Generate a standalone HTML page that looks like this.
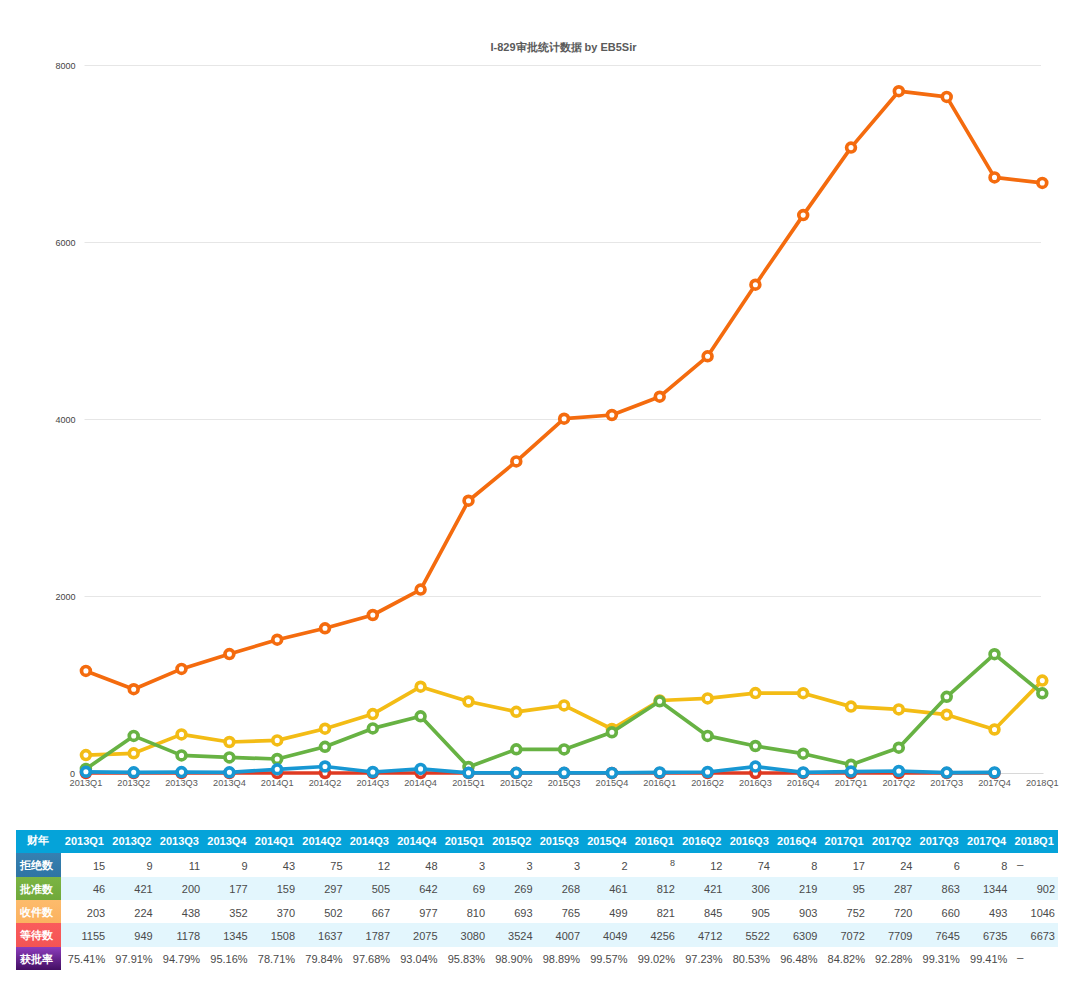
<!DOCTYPE html>
<html><head><meta charset="utf-8"><title>I-829</title>
<style>
html,body{margin:0;padding:0;background:#fff;}
body{width:1080px;height:987px;position:relative;overflow:hidden;font-family:"Liberation Sans",sans-serif;}
.t{position:absolute;left:16px;top:830px;width:1042px;border-collapse:collapse;table-layout:fixed;font-size:11px;}
.t td{height:23.333px;padding:2px 3px 0 0;text-align:right;color:#4a4a4a;white-space:nowrap;overflow:hidden;box-sizing:border-box;}
.t tr.h td{background:#05a3d9;color:#fff;text-align:center;padding:0 0 2px 0;font-weight:bold;}
.t td.lab{width:44.7px;text-align:left;color:#fff;padding:1.5px 0 0 4px;font-weight:bold;}
.t tr.h td.lab{text-align:center;padding:0 0 2px 0;}
.t tr.even td{background:#e3f6fd;}
.t tr.odd td{background:#fff;}
.t .sm{font-size:9px;position:relative;top:-3.5px;}
.t td.na{text-align:left;padding-left:6.5px;padding-right:0;}
.t .ds{position:relative;top:-2px;font-size:11.5px;}
</style></head><body>
<svg width="1080" height="820" viewBox="0 0 1080 820" style="position:absolute;left:0;top:0">
<text x="563.5" y="51" text-anchor="middle" font-family="Liberation Sans, sans-serif" font-size="11" font-weight="bold" fill="#5a5a5a">I-829审批统计数据 by EB5Sir</text>
<line x1="84.5" y1="596.5" x2="1041" y2="596.5" stroke="#e6e6e6" stroke-width="1"/>
<text x="75.5" y="599.8" text-anchor="end" font-family="Liberation Sans, sans-serif" font-size="9" fill="#444">2000</text>
<line x1="84.5" y1="419.5" x2="1041" y2="419.5" stroke="#e6e6e6" stroke-width="1"/>
<text x="75.5" y="422.8" text-anchor="end" font-family="Liberation Sans, sans-serif" font-size="9" fill="#444">4000</text>
<line x1="84.5" y1="242.5" x2="1041" y2="242.5" stroke="#e6e6e6" stroke-width="1"/>
<text x="75.5" y="245.8" text-anchor="end" font-family="Liberation Sans, sans-serif" font-size="9" fill="#444">6000</text>
<line x1="84.5" y1="65.5" x2="1041" y2="65.5" stroke="#e6e6e6" stroke-width="1"/>
<text x="75.5" y="68.8" text-anchor="end" font-family="Liberation Sans, sans-serif" font-size="9" fill="#444">8000</text>
<line x1="84.5" y1="773.5" x2="1043.5" y2="773.5" stroke="#d8d8d8" stroke-width="1"/>
<text x="75" y="776.8" text-anchor="end" font-family="Liberation Sans, sans-serif" font-size="9" fill="#444">0</text>
<text x="85.9" y="785.6" text-anchor="middle" font-family="Liberation Sans, sans-serif" font-size="9.2" fill="#595959">2013Q1</text>
<text x="133.7" y="785.6" text-anchor="middle" font-family="Liberation Sans, sans-serif" font-size="9.2" fill="#595959">2013Q2</text>
<text x="181.5" y="785.6" text-anchor="middle" font-family="Liberation Sans, sans-serif" font-size="9.2" fill="#595959">2013Q3</text>
<text x="229.4" y="785.6" text-anchor="middle" font-family="Liberation Sans, sans-serif" font-size="9.2" fill="#595959">2013Q4</text>
<text x="277.2" y="785.6" text-anchor="middle" font-family="Liberation Sans, sans-serif" font-size="9.2" fill="#595959">2014Q1</text>
<text x="325.0" y="785.6" text-anchor="middle" font-family="Liberation Sans, sans-serif" font-size="9.2" fill="#595959">2014Q2</text>
<text x="372.8" y="785.6" text-anchor="middle" font-family="Liberation Sans, sans-serif" font-size="9.2" fill="#595959">2014Q3</text>
<text x="420.6" y="785.6" text-anchor="middle" font-family="Liberation Sans, sans-serif" font-size="9.2" fill="#595959">2014Q4</text>
<text x="468.5" y="785.6" text-anchor="middle" font-family="Liberation Sans, sans-serif" font-size="9.2" fill="#595959">2015Q1</text>
<text x="516.3" y="785.6" text-anchor="middle" font-family="Liberation Sans, sans-serif" font-size="9.2" fill="#595959">2015Q2</text>
<text x="564.1" y="785.6" text-anchor="middle" font-family="Liberation Sans, sans-serif" font-size="9.2" fill="#595959">2015Q3</text>
<text x="611.9" y="785.6" text-anchor="middle" font-family="Liberation Sans, sans-serif" font-size="9.2" fill="#595959">2015Q4</text>
<text x="659.7" y="785.6" text-anchor="middle" font-family="Liberation Sans, sans-serif" font-size="9.2" fill="#595959">2016Q1</text>
<text x="707.6" y="785.6" text-anchor="middle" font-family="Liberation Sans, sans-serif" font-size="9.2" fill="#595959">2016Q2</text>
<text x="755.4" y="785.6" text-anchor="middle" font-family="Liberation Sans, sans-serif" font-size="9.2" fill="#595959">2016Q3</text>
<text x="803.2" y="785.6" text-anchor="middle" font-family="Liberation Sans, sans-serif" font-size="9.2" fill="#595959">2016Q4</text>
<text x="851.0" y="785.6" text-anchor="middle" font-family="Liberation Sans, sans-serif" font-size="9.2" fill="#595959">2017Q1</text>
<text x="898.8" y="785.6" text-anchor="middle" font-family="Liberation Sans, sans-serif" font-size="9.2" fill="#595959">2017Q2</text>
<text x="946.7" y="785.6" text-anchor="middle" font-family="Liberation Sans, sans-serif" font-size="9.2" fill="#595959">2017Q3</text>
<text x="994.5" y="785.6" text-anchor="middle" font-family="Liberation Sans, sans-serif" font-size="9.2" fill="#595959">2017Q4</text>
<text x="1042.3" y="785.6" text-anchor="middle" font-family="Liberation Sans, sans-serif" font-size="9.2" fill="#595959">2018Q1</text>
<path d="M85.9,670.9 L133.7,689.2 L181.5,668.9 L229.4,654.1 L277.2,639.7 L325.0,628.3 L372.8,615.0 L420.6,589.6 L468.5,500.7 L516.3,461.4 L564.1,418.7 L611.9,415.0 L659.7,396.7 L707.6,356.3 L755.4,284.7 L803.2,215.1 L851.0,147.6 L898.8,91.2 L946.7,96.9 L994.5,177.4 L1042.3,182.9" fill="none" stroke="#f46b0e" stroke-width="3.7" stroke-linejoin="round" stroke-linecap="round"/>
<circle cx="85.9" cy="670.9" r="4.4" fill="#fff" stroke="#f46b0e" stroke-width="3.7"/>
<circle cx="133.7" cy="689.2" r="4.4" fill="#fff" stroke="#f46b0e" stroke-width="3.7"/>
<circle cx="181.5" cy="668.9" r="4.4" fill="#fff" stroke="#f46b0e" stroke-width="3.7"/>
<circle cx="229.4" cy="654.1" r="4.4" fill="#fff" stroke="#f46b0e" stroke-width="3.7"/>
<circle cx="277.2" cy="639.7" r="4.4" fill="#fff" stroke="#f46b0e" stroke-width="3.7"/>
<circle cx="325.0" cy="628.3" r="4.4" fill="#fff" stroke="#f46b0e" stroke-width="3.7"/>
<circle cx="372.8" cy="615.0" r="4.4" fill="#fff" stroke="#f46b0e" stroke-width="3.7"/>
<circle cx="420.6" cy="589.6" r="4.4" fill="#fff" stroke="#f46b0e" stroke-width="3.7"/>
<circle cx="468.5" cy="500.7" r="4.4" fill="#fff" stroke="#f46b0e" stroke-width="3.7"/>
<circle cx="516.3" cy="461.4" r="4.4" fill="#fff" stroke="#f46b0e" stroke-width="3.7"/>
<circle cx="564.1" cy="418.7" r="4.4" fill="#fff" stroke="#f46b0e" stroke-width="3.7"/>
<circle cx="611.9" cy="415.0" r="4.4" fill="#fff" stroke="#f46b0e" stroke-width="3.7"/>
<circle cx="659.7" cy="396.7" r="4.4" fill="#fff" stroke="#f46b0e" stroke-width="3.7"/>
<circle cx="707.6" cy="356.3" r="4.4" fill="#fff" stroke="#f46b0e" stroke-width="3.7"/>
<circle cx="755.4" cy="284.7" r="4.4" fill="#fff" stroke="#f46b0e" stroke-width="3.7"/>
<circle cx="803.2" cy="215.1" r="4.4" fill="#fff" stroke="#f46b0e" stroke-width="3.7"/>
<circle cx="851.0" cy="147.6" r="4.4" fill="#fff" stroke="#f46b0e" stroke-width="3.7"/>
<circle cx="898.8" cy="91.2" r="4.4" fill="#fff" stroke="#f46b0e" stroke-width="3.7"/>
<circle cx="946.7" cy="96.9" r="4.4" fill="#fff" stroke="#f46b0e" stroke-width="3.7"/>
<circle cx="994.5" cy="177.4" r="4.4" fill="#fff" stroke="#f46b0e" stroke-width="3.7"/>
<circle cx="1042.3" cy="182.9" r="4.4" fill="#fff" stroke="#f46b0e" stroke-width="3.7"/>

<path d="M85.9,755.1 L133.7,753.3 L181.5,734.4 L229.4,742.0 L277.2,740.4 L325.0,728.7 L372.8,714.1 L420.6,686.7 L468.5,701.5 L516.3,711.8 L564.1,705.4 L611.9,729.0 L659.7,700.5 L707.6,698.4 L755.4,693.1 L803.2,693.2 L851.0,706.6 L898.8,709.4 L946.7,714.7 L994.5,729.5 L1042.3,680.6" fill="none" stroke="#f3bc15" stroke-width="3.7" stroke-linejoin="round" stroke-linecap="round"/>
<circle cx="85.9" cy="755.1" r="4.4" fill="#fff" stroke="#f3bc15" stroke-width="3.7"/>
<circle cx="133.7" cy="753.3" r="4.4" fill="#fff" stroke="#f3bc15" stroke-width="3.7"/>
<circle cx="181.5" cy="734.4" r="4.4" fill="#fff" stroke="#f3bc15" stroke-width="3.7"/>
<circle cx="229.4" cy="742.0" r="4.4" fill="#fff" stroke="#f3bc15" stroke-width="3.7"/>
<circle cx="277.2" cy="740.4" r="4.4" fill="#fff" stroke="#f3bc15" stroke-width="3.7"/>
<circle cx="325.0" cy="728.7" r="4.4" fill="#fff" stroke="#f3bc15" stroke-width="3.7"/>
<circle cx="372.8" cy="714.1" r="4.4" fill="#fff" stroke="#f3bc15" stroke-width="3.7"/>
<circle cx="420.6" cy="686.7" r="4.4" fill="#fff" stroke="#f3bc15" stroke-width="3.7"/>
<circle cx="468.5" cy="701.5" r="4.4" fill="#fff" stroke="#f3bc15" stroke-width="3.7"/>
<circle cx="516.3" cy="711.8" r="4.4" fill="#fff" stroke="#f3bc15" stroke-width="3.7"/>
<circle cx="564.1" cy="705.4" r="4.4" fill="#fff" stroke="#f3bc15" stroke-width="3.7"/>
<circle cx="611.9" cy="729.0" r="4.4" fill="#fff" stroke="#f3bc15" stroke-width="3.7"/>
<circle cx="659.7" cy="700.5" r="4.4" fill="#fff" stroke="#f3bc15" stroke-width="3.7"/>
<circle cx="707.6" cy="698.4" r="4.4" fill="#fff" stroke="#f3bc15" stroke-width="3.7"/>
<circle cx="755.4" cy="693.1" r="4.4" fill="#fff" stroke="#f3bc15" stroke-width="3.7"/>
<circle cx="803.2" cy="693.2" r="4.4" fill="#fff" stroke="#f3bc15" stroke-width="3.7"/>
<circle cx="851.0" cy="706.6" r="4.4" fill="#fff" stroke="#f3bc15" stroke-width="3.7"/>
<circle cx="898.8" cy="709.4" r="4.4" fill="#fff" stroke="#f3bc15" stroke-width="3.7"/>
<circle cx="946.7" cy="714.7" r="4.4" fill="#fff" stroke="#f3bc15" stroke-width="3.7"/>
<circle cx="994.5" cy="729.5" r="4.4" fill="#fff" stroke="#f3bc15" stroke-width="3.7"/>
<circle cx="1042.3" cy="680.6" r="4.4" fill="#fff" stroke="#f3bc15" stroke-width="3.7"/>

<path d="M85.9,769.0 L133.7,735.9 L181.5,755.4 L229.4,757.4 L277.2,759.0 L325.0,746.8 L372.8,728.4 L420.6,716.3 L468.5,767.0 L516.3,749.3 L564.1,749.4 L611.9,732.3 L659.7,701.3 L707.6,735.9 L755.4,746.0 L803.2,753.7 L851.0,764.7 L898.8,747.7 L946.7,696.8 L994.5,654.2 L1042.3,693.3" fill="none" stroke="#67b243" stroke-width="3.7" stroke-linejoin="round" stroke-linecap="round"/>
<circle cx="85.9" cy="769.0" r="4.4" fill="#fff" stroke="#67b243" stroke-width="3.7"/>
<circle cx="133.7" cy="735.9" r="4.4" fill="#fff" stroke="#67b243" stroke-width="3.7"/>
<circle cx="181.5" cy="755.4" r="4.4" fill="#fff" stroke="#67b243" stroke-width="3.7"/>
<circle cx="229.4" cy="757.4" r="4.4" fill="#fff" stroke="#67b243" stroke-width="3.7"/>
<circle cx="277.2" cy="759.0" r="4.4" fill="#fff" stroke="#67b243" stroke-width="3.7"/>
<circle cx="325.0" cy="746.8" r="4.4" fill="#fff" stroke="#67b243" stroke-width="3.7"/>
<circle cx="372.8" cy="728.4" r="4.4" fill="#fff" stroke="#67b243" stroke-width="3.7"/>
<circle cx="420.6" cy="716.3" r="4.4" fill="#fff" stroke="#67b243" stroke-width="3.7"/>
<circle cx="468.5" cy="767.0" r="4.4" fill="#fff" stroke="#67b243" stroke-width="3.7"/>
<circle cx="516.3" cy="749.3" r="4.4" fill="#fff" stroke="#67b243" stroke-width="3.7"/>
<circle cx="564.1" cy="749.4" r="4.4" fill="#fff" stroke="#67b243" stroke-width="3.7"/>
<circle cx="611.9" cy="732.3" r="4.4" fill="#fff" stroke="#67b243" stroke-width="3.7"/>
<circle cx="659.7" cy="701.3" r="4.4" fill="#fff" stroke="#67b243" stroke-width="3.7"/>
<circle cx="707.6" cy="735.9" r="4.4" fill="#fff" stroke="#67b243" stroke-width="3.7"/>
<circle cx="755.4" cy="746.0" r="4.4" fill="#fff" stroke="#67b243" stroke-width="3.7"/>
<circle cx="803.2" cy="753.7" r="4.4" fill="#fff" stroke="#67b243" stroke-width="3.7"/>
<circle cx="851.0" cy="764.7" r="4.4" fill="#fff" stroke="#67b243" stroke-width="3.7"/>
<circle cx="898.8" cy="747.7" r="4.4" fill="#fff" stroke="#67b243" stroke-width="3.7"/>
<circle cx="946.7" cy="696.8" r="4.4" fill="#fff" stroke="#67b243" stroke-width="3.7"/>
<circle cx="994.5" cy="654.2" r="4.4" fill="#fff" stroke="#67b243" stroke-width="3.7"/>
<circle cx="1042.3" cy="693.3" r="4.4" fill="#fff" stroke="#67b243" stroke-width="3.7"/>

<path d="M85.9,773.0 L133.7,773.0 L181.5,773.0 L229.4,773.0 L277.2,773.0 L325.0,773.0 L372.8,773.0 L420.6,773.0 L468.5,773.0 L516.3,773.0 L564.1,773.0 L611.9,773.0 L659.7,773.0 L707.6,773.0 L755.4,773.0 L803.2,773.0 L851.0,773.0 L898.8,773.0 L946.7,773.0 L994.5,773.0" fill="none" stroke="#df3a22" stroke-width="3.7" stroke-linejoin="round" stroke-linecap="round"/>
<circle cx="85.9" cy="773.0" r="4.4" fill="#fff" stroke="#df3a22" stroke-width="3.7"/>
<circle cx="133.7" cy="773.0" r="4.4" fill="#fff" stroke="#df3a22" stroke-width="3.7"/>
<circle cx="181.5" cy="773.0" r="4.4" fill="#fff" stroke="#df3a22" stroke-width="3.7"/>
<circle cx="229.4" cy="773.0" r="4.4" fill="#fff" stroke="#df3a22" stroke-width="3.7"/>
<circle cx="277.2" cy="773.0" r="4.4" fill="#fff" stroke="#df3a22" stroke-width="3.7"/>
<circle cx="325.0" cy="773.0" r="4.4" fill="#fff" stroke="#df3a22" stroke-width="3.7"/>
<circle cx="372.8" cy="773.0" r="4.4" fill="#fff" stroke="#df3a22" stroke-width="3.7"/>
<circle cx="420.6" cy="773.0" r="4.4" fill="#fff" stroke="#df3a22" stroke-width="3.7"/>
<circle cx="468.5" cy="773.0" r="4.4" fill="#fff" stroke="#df3a22" stroke-width="3.7"/>
<circle cx="516.3" cy="773.0" r="4.4" fill="#fff" stroke="#df3a22" stroke-width="3.7"/>
<circle cx="564.1" cy="773.0" r="4.4" fill="#fff" stroke="#df3a22" stroke-width="3.7"/>
<circle cx="611.9" cy="773.0" r="4.4" fill="#fff" stroke="#df3a22" stroke-width="3.7"/>
<circle cx="659.7" cy="773.0" r="4.4" fill="#fff" stroke="#df3a22" stroke-width="3.7"/>
<circle cx="707.6" cy="773.0" r="4.4" fill="#fff" stroke="#df3a22" stroke-width="3.7"/>
<circle cx="755.4" cy="773.0" r="4.4" fill="#fff" stroke="#df3a22" stroke-width="3.7"/>
<circle cx="803.2" cy="773.0" r="4.4" fill="#fff" stroke="#df3a22" stroke-width="3.7"/>
<circle cx="851.0" cy="773.0" r="4.4" fill="#fff" stroke="#df3a22" stroke-width="3.7"/>
<circle cx="898.8" cy="773.0" r="4.4" fill="#fff" stroke="#df3a22" stroke-width="3.7"/>
<circle cx="946.7" cy="773.0" r="4.4" fill="#fff" stroke="#df3a22" stroke-width="3.7"/>
<circle cx="994.5" cy="773.0" r="4.4" fill="#fff" stroke="#df3a22" stroke-width="3.7"/>

<path d="M85.9,771.8 L133.7,772.3 L181.5,772.1 L229.4,772.3 L277.2,769.3 L325.0,766.5 L372.8,772.0 L420.6,768.9 L468.5,772.8 L516.3,772.8 L564.1,772.8 L611.9,772.9 L659.7,772.4 L707.6,772.0 L755.4,766.6 L803.2,772.4 L851.0,771.6 L898.8,771.0 L946.7,772.6 L994.5,772.4" fill="none" stroke="#1797d3" stroke-width="3.7" stroke-linejoin="round" stroke-linecap="round"/>
<circle cx="85.9" cy="771.8" r="4.4" fill="#fff" stroke="#1797d3" stroke-width="3.7"/>
<circle cx="133.7" cy="772.3" r="4.4" fill="#fff" stroke="#1797d3" stroke-width="3.7"/>
<circle cx="181.5" cy="772.1" r="4.4" fill="#fff" stroke="#1797d3" stroke-width="3.7"/>
<circle cx="229.4" cy="772.3" r="4.4" fill="#fff" stroke="#1797d3" stroke-width="3.7"/>
<circle cx="277.2" cy="769.3" r="4.4" fill="#fff" stroke="#1797d3" stroke-width="3.7"/>
<circle cx="325.0" cy="766.5" r="4.4" fill="#fff" stroke="#1797d3" stroke-width="3.7"/>
<circle cx="372.8" cy="772.0" r="4.4" fill="#fff" stroke="#1797d3" stroke-width="3.7"/>
<circle cx="420.6" cy="768.9" r="4.4" fill="#fff" stroke="#1797d3" stroke-width="3.7"/>
<circle cx="468.5" cy="772.8" r="4.4" fill="#fff" stroke="#1797d3" stroke-width="3.7"/>
<circle cx="516.3" cy="772.8" r="4.4" fill="#fff" stroke="#1797d3" stroke-width="3.7"/>
<circle cx="564.1" cy="772.8" r="4.4" fill="#fff" stroke="#1797d3" stroke-width="3.7"/>
<circle cx="611.9" cy="772.9" r="4.4" fill="#fff" stroke="#1797d3" stroke-width="3.7"/>
<circle cx="659.7" cy="772.4" r="4.4" fill="#fff" stroke="#1797d3" stroke-width="3.7"/>
<circle cx="707.6" cy="772.0" r="4.4" fill="#fff" stroke="#1797d3" stroke-width="3.7"/>
<circle cx="755.4" cy="766.6" r="4.4" fill="#fff" stroke="#1797d3" stroke-width="3.7"/>
<circle cx="803.2" cy="772.4" r="4.4" fill="#fff" stroke="#1797d3" stroke-width="3.7"/>
<circle cx="851.0" cy="771.6" r="4.4" fill="#fff" stroke="#1797d3" stroke-width="3.7"/>
<circle cx="898.8" cy="771.0" r="4.4" fill="#fff" stroke="#1797d3" stroke-width="3.7"/>
<circle cx="946.7" cy="772.6" r="4.4" fill="#fff" stroke="#1797d3" stroke-width="3.7"/>
<circle cx="994.5" cy="772.4" r="4.4" fill="#fff" stroke="#1797d3" stroke-width="3.7"/>

</svg>
<table class="t">
<tr class="h"><td class="lab">财年</td><td>2013Q1</td><td>2013Q2</td><td>2013Q3</td><td>2013Q4</td><td>2014Q1</td><td>2014Q2</td><td>2014Q3</td><td>2014Q4</td><td>2015Q1</td><td>2015Q2</td><td>2015Q3</td><td>2015Q4</td><td>2016Q1</td><td>2016Q2</td><td>2016Q3</td><td>2016Q4</td><td>2017Q1</td><td>2017Q2</td><td>2017Q3</td><td>2017Q4</td><td>2018Q1</td></tr>
<tr class="odd"><td class="lab" style="background:linear-gradient(#3580b2,#2f74a3)">拒绝数</td><td>15</td><td>9</td><td>11</td><td>9</td><td>43</td><td>75</td><td>12</td><td>48</td><td>3</td><td>3</td><td>3</td><td>2</td><td><span class="sm">8</span></td><td>12</td><td>74</td><td>8</td><td>17</td><td>24</td><td>6</td><td>8</td><td class="na"><span class="ds">–</span></td></tr>
<tr class="even"><td class="lab" style="background:linear-gradient(#7bb443,#70a93b)">批准数</td><td>46</td><td>421</td><td>200</td><td>177</td><td>159</td><td>297</td><td>505</td><td>642</td><td>69</td><td>269</td><td>268</td><td>461</td><td>812</td><td>421</td><td>306</td><td>219</td><td>95</td><td>287</td><td>863</td><td>1344</td><td>902</td></tr>
<tr class="odd"><td class="lab" style="background:linear-gradient(#fdbb6c,#fbb25f)">收件数</td><td>203</td><td>224</td><td>438</td><td>352</td><td>370</td><td>502</td><td>667</td><td>977</td><td>810</td><td>693</td><td>765</td><td>499</td><td>821</td><td>845</td><td>905</td><td>903</td><td>752</td><td>720</td><td>660</td><td>493</td><td>1046</td></tr>
<tr class="even"><td class="lab" style="background:linear-gradient(#fa5c5c,#f45454)">等待数</td><td>1155</td><td>949</td><td>1178</td><td>1345</td><td>1508</td><td>1637</td><td>1787</td><td>2075</td><td>3080</td><td>3524</td><td>4007</td><td>4049</td><td>4256</td><td>4712</td><td>5522</td><td>6309</td><td>7072</td><td>7709</td><td>7645</td><td>6735</td><td>6673</td></tr>
<tr class="odd"><td class="lab" style="background:linear-gradient(#8c3cbc,#430f63)">获批率</td><td>75.41%</td><td>97.91%</td><td>94.79%</td><td>95.16%</td><td>78.71%</td><td>79.84%</td><td>97.68%</td><td>93.04%</td><td>95.83%</td><td>98.90%</td><td>98.89%</td><td>99.57%</td><td>99.02%</td><td>97.23%</td><td>80.53%</td><td>96.48%</td><td>84.82%</td><td>92.28%</td><td>99.31%</td><td>99.41%</td><td class="na"><span class="ds">–</span></td></tr>
</table>
</body></html>
